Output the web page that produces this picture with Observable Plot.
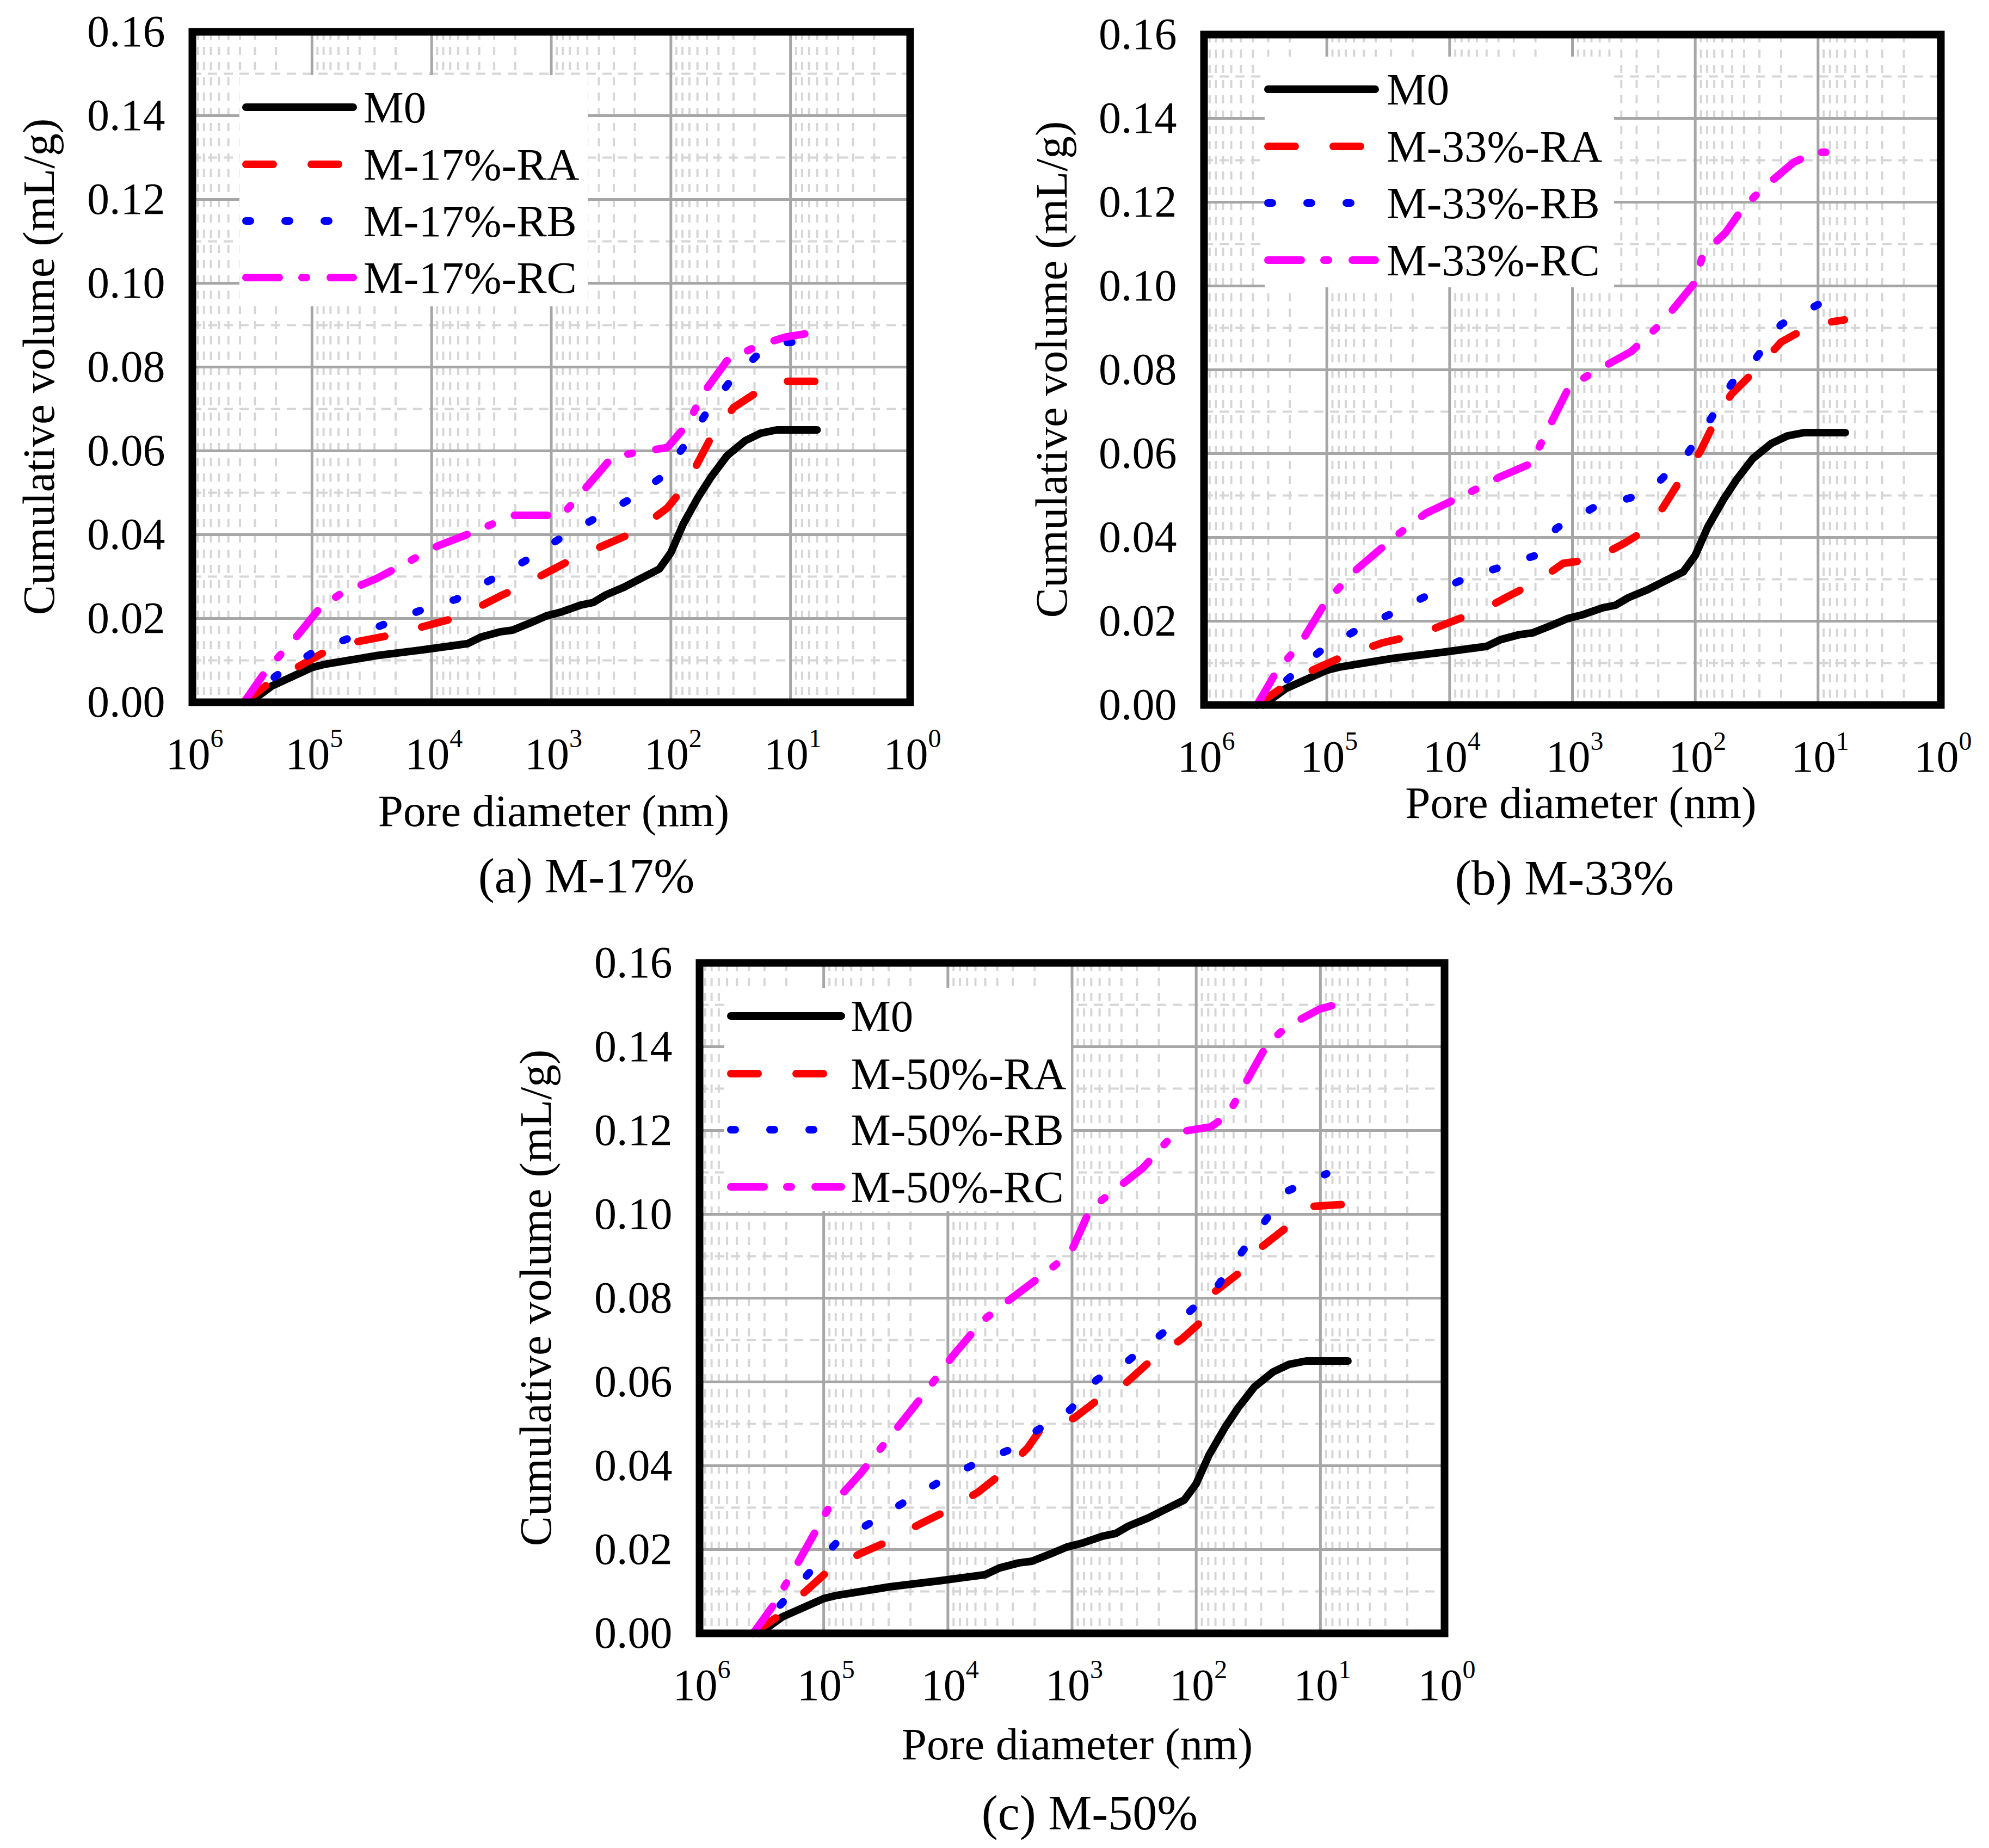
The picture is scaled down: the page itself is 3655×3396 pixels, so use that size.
<!DOCTYPE html>
<html>
<head>
<meta charset="utf-8">
<script src="https://cdn.jsdelivr.net/npm/d3@7"></script>
<script src="https://cdn.jsdelivr.net/npm/@observablehq/plot@0.6"></script>
<style>
  body { margin: 0; background: #fff; }
  #page { position: relative; width: 3655px; height: 3396px; background: #fff; font-family: "Liberation Serif", "Times New Roman", serif; }
  #page svg { position: absolute; overflow: visible; }
</style>
</head>
<body>
<div id="page"></div>
<script>
// pore diameter (nm), cumulative volume (mL/g)
const m0 = [[3.3e5,0],[2.16e5,0.0039],[1.0e5,0.0083],[8.0e4,0.009],[2.94e4,0.0111],[1.13e4,0.0126],[5.0e3,0.014],[3.84e3,0.0156],[2.69e3,0.0168],[2.11e3,0.0172],[1.48e3,0.019],[1.1e3,0.0206],[813,0.0216],[566,0.0232],[447,0.0238],[351,0.0256],[245,0.0275],[171,0.0298],[125,0.0318],[100,0.0357],[79,0.0425],[59,0.049],[46,0.0538],[34,0.0588],[24,0.0624],[17.8,0.0642],[13,0.065],[6.0,0.065]]

const ra17 = [[3.7e5,0],[2.2e5,0.0049],[9.7e4,0.0105],[6.4e4,0.0134],[2.05e4,0.0162],[5.8e3,0.0204],[2.69e3,0.0253],[1.87e3,0.0274],[640,0.0344],[194,0.0408],[107,0.0464],[74,0.052],[46,0.0633],[30,0.0703],[13.8,0.0766],[6.0,0.0766]]
const rb17 = [[3.7e5,0],[2.0e5,0.0063],[9.7e4,0.012],[4.7e4,0.0155],[2.3e4,0.019],[1.27e4,0.0218],[6.2e3,0.0246],[3.4e3,0.0288],[1.66e3,0.0337],[813,0.0394],[447,0.0436],[218,0.0485],[120,0.0537],[74,0.0619],[49,0.0696],[32,0.0766],[18.7,0.083],[12.3,0.0858],[8.1,0.086]]
const rc17 = [[3.7e5,0],[2.5e5,0.007],[1.3e5,0.0162],[8.6e4,0.0225],[5.7e4,0.026],[2.9e4,0.0295],[1.8e4,0.0326],[8.9e3,0.0373],[4.3e3,0.0408],[2.1e3,0.0446],[813,0.0446],[535,0.0506],[312,0.0584],[245,0.0591],[107,0.0608],[74,0.0661],[51,0.0746],[34,0.0815],[18.7,0.0851],[10.9,0.0872],[7.6,0.0879]]

const ra33 = [[3.7e5,0],[2.3e5,0.0042],[1.29e5,0.0084],[7.2e4,0.0117],[3.56e4,0.0148],[1.76e4,0.0169],[8.7e3,0.0204],[5.5e3,0.0225],[3.4e3,0.0258],[1.9e3,0.0296],[1.19e3,0.0338],[665,0.0348],[372,0.0387],[261,0.0415],[183,0.0471],[129,0.0542],[91,0.0605],[64,0.0697],[50.6,0.0742],[31.6,0.0802],[20,0.0866],[11,0.0908],[6.1,0.0919]]
const rb33 = [[3.7e5,0],[2.06e5,0.0063],[1.15e5,0.0127],[5.7e4,0.0179],[2.98e4,0.0218],[1.39e4,0.0267],[7.3e3,0.0303],[3.4e3,0.0334],[1.9e3,0.0359],[1.35e3,0.0422],[665,0.0472],[330,0.0495],[194,0.0535],[115,0.0601],[72,0.069],[50.6,0.0767],[31.6,0.083],[20,0.0908],[9.8,0.0957]]
const rc33 = [[3.7e5,0],[2.6e5,0.0077],[1.63e5,0.0148],[1.02e5,0.0246],[5.7e4,0.0324],[2.8e4,0.0401],[1.57e4,0.0457],[6.9e3,0.0507],[3.85e3,0.0545],[2.14e3,0.0577],[1.7e3,0.064],[1.06e3,0.076],[665,0.0795],[330,0.0844],[183,0.0915],[102,0.1006],[86,0.1077],[57,0.1126],[40,0.119],[25,0.1246],[15.8,0.1295],[10.5,0.1319],[6.1,0.1319]]

const ra50 = [[3.7e5,0],[2.3e5,0.0042],[1.43e5,0.0098],[9.3e4,0.0148],[5.1e4,0.019],[3.1e4,0.0218],[1.7e4,0.026],[9.8e3,0.0295],[5.7e3,0.0337],[3.5e3,0.0387],[2.27e3,0.0443],[1.68e3,0.0499],[970,0.0513],[634,0.0555],[366,0.0598],[240,0.0647],[130,0.0703],[85,0.0752],[71,0.0815],[46,0.0858],[30,0.0921],[19.8,0.0963],[11.5,0.1019],[6.2,0.1024]]
const rb50 = [[3.7e5,0],[2.2e5,0.007],[1.34e5,0.0141],[7.8e4,0.0218],[4e4,0.0267],[2.16e4,0.0316],[1.1e4,0.0366],[5.7e3,0.0408],[3.3e3,0.0436],[1.9e3,0.0485],[1.03e3,0.0534],[634,0.0605],[366,0.0647],[212,0.0703],[115,0.0766],[67,0.083],[43.6,0.0907],[26.8,0.0991],[18.6,0.1055],[8.9,0.1097]]
const rc50 = [[3.7e5,0],[2.5e5,0.007],[1.71e5,0.0155],[9.3e4,0.0295],[5.1e4,0.038],[2.76e4,0.0478],[1.5e4,0.0577],[9.2e3,0.0661],[5.3e3,0.0745],[3.5e3,0.0787],[1.68e3,0.0858],[1.03e3,0.0907],[716,0.1012],[500,0.1048],[270,0.111],[148,0.1195],[76,0.1209],[55.6,0.1237],[38.6,0.1322],[26.8,0.1406],[18.6,0.1448],[10.1,0.149],[6.2,0.1507]]

const decades = [1e6, 1e5, 1e4, 1e3, 1e2, 1e1, 1e0]
const yTicks = [0, 0.02, 0.04, 0.06, 0.08, 0.10, 0.12, 0.14, 0.16]
const yMinor = [0.01, 0.03, 0.05, 0.07, 0.09, 0.11, 0.13, 0.15]
const minorSteps = [2, 3, 4, 5, 6, 7, 8, 9]

const xMinor = decades.slice(1).flatMap(d => minorSteps.map(k => k * d))

const styles = [
  {stroke: "#000000", dash: null},
  {stroke: "#ff0000", dash: "50,70"},
  {stroke: "#0000ff", dash: "8,64"},
  {stroke: "#ff00ff", dash: "61,42,8,44"}
]

const panels = [
  {series: [m0, ra17, rb17, rc17], names: ["M0", "M-17%-RA", "M-17%-RB", "M-17%-RC"], caption: "(a) M-17%",
   left: 353, right: 1672, top: 58, bottom: 1290, yLab: 281, xLab: 228, capDx: 65, capDy: 350, xLabDx: 5,
   box: [87, 80, 727, 505], leg: [99, 296, 315], rows: [139, 244, 348, 452]},
  {series: [m0, ra33, rb33, rc33], names: ["M0", "M-33%-RA", "M-33%-RB", "M-33%-RC"], caption: "(b) M-33%",
   left: 2212, right: 3566, top: 63, bottom: 1295, yLab: 279, xLab: 208, capDx: -14, capDy: 349, xLabDx: 16,
   box: [112, 41, 754, 465], leg: [118, 315, 336], rows: [101, 206, 310, 415]},
  {series: [m0, ra50, rb50, rc50], names: ["M0", "M-50%-RA", "M-50%-RB", "M-50%-RC"], caption: "(c) M-50%",
   left: 1285, right: 2654, top: 1769, bottom: 3001, yLab: 300, xLab: 232, capDx: 33, capDy: 361, xLabDx: 10,
   box: [46, 47, 683, 457], leg: [58, 261, 278], rows: [98, 204, 307, 412]}
]

const ML = 360, MR = 60, MT = 70, MB = 420
const font = "Liberation Serif"
const LW = 14

panels.forEach(p => {
  const w = p.right - p.left, h = p.bottom - p.top
  const marks = [
    Plot.ruleY(yMinor, {y: d => d, stroke: "#d6d6d6", strokeWidth: 4, strokeDasharray: "17,12"}),
    Plot.ruleX(xMinor, {x: d => d, stroke: "#d6d6d6", strokeWidth: 4, strokeDasharray: "15,13"}),
    Plot.ruleY(yTicks, {y: d => d, stroke: "#a6a6a6", strokeWidth: 5}),
    Plot.ruleX(decades, {x: d => d, stroke: "#a6a6a6", strokeWidth: 5})
  ]
  p.series.forEach((s, i) => {
    marks.push(Plot.line(s, {x: d => d[0], y: d => d[1], stroke: styles[i].stroke, strokeWidth: LW,
      strokeDasharray: styles[i].dash, strokeLinecap: "round", strokeLinejoin: "round"}))
  })
  marks.push(
    Plot.frame({stroke: "#000", strokeWidth: 14}),
    Plot.text(yTicks, {y: d => d, frameAnchor: "left", text: d => d.toFixed(2), textAnchor: "end",
      dx: -50, fontSize: 82, lineAnchor: "middle", fill: "#000"}),
    Plot.text(decades, {x: d => d, frameAnchor: "bottom", text: d => "10", textAnchor: "middle",
      dx: -8, dy: 122, fontSize: 82, lineAnchor: "bottom", fill: "#000"}),
    Plot.text(decades, {x: d => d, frameAnchor: "bottom", text: d => String(Math.round(Math.log10(d))),
      textAnchor: "start", dx: 33, dy: 82, fontSize: 48, lineAnchor: "bottom", fill: "#000"})
  )
  const chart = Plot.plot({
    width: w + ML + MR,
    height: h + MT + MB,
    marginLeft: ML, marginRight: MR, marginTop: MT, marginBottom: MB,
    x: {type: "log", domain: [1e6, 1], axis: null},
    y: {domain: [0, 0.16], axis: null},
    style: {fontFamily: font, background: "transparent", overflow: "visible"},
    marks
  })
  chart.style.left = (p.left - ML) + "px"
  chart.style.top = (p.top - MT) + "px"
  const svg = d3.select("#page").append(() => chart)

  // legend
  const g = svg.append("g").attr("transform", `translate(${ML},${MT})`)
  g.append("rect").attr("x", p.box[0]).attr("y", p.box[1])
    .attr("width", p.box[2] - p.box[0]).attr("height", p.box[3] - p.box[1]).attr("fill", "#fff")
  p.names.forEach((n, i) => {
    g.append("line").attr("x1", p.leg[0]).attr("x2", p.leg[1]).attr("y1", p.rows[i]).attr("y2", p.rows[i])
      .attr("stroke", styles[i].stroke).attr("stroke-width", LW).attr("stroke-linecap", "round")
      .attr("stroke-dasharray", styles[i].dash)
    g.append("text").attr("x", p.leg[2]).attr("y", p.rows[i] + 28).text(n)
      .attr("text-anchor", "start")
      .attr("font-family", font).attr("font-size", 83).attr("fill", "#000")
  })

  // axis titles and caption
  svg.append("text").attr("transform", `translate(${ML - p.yLab},${MT + h / 2}) rotate(-90)`)
    .attr("text-anchor", "middle").attr("dy", "0.32em").attr("font-family", font).attr("font-size", 83)
    .text("Cumulative volume (mL/g)")
  svg.append("text").attr("x", ML + w / 2 + p.xLabDx).attr("y", MT + h + p.xLab)
    .attr("text-anchor", "middle").attr("font-family", font).attr("font-size", 83)
    .text("Pore diameter (nm)")
  svg.append("text").attr("x", ML + w / 2 + p.capDx).attr("y", MT + h + p.capDy)
    .attr("text-anchor", "middle").attr("font-family", font).attr("font-size", 90)
    .text(p.caption)
})
</script>
</body>
</html>
